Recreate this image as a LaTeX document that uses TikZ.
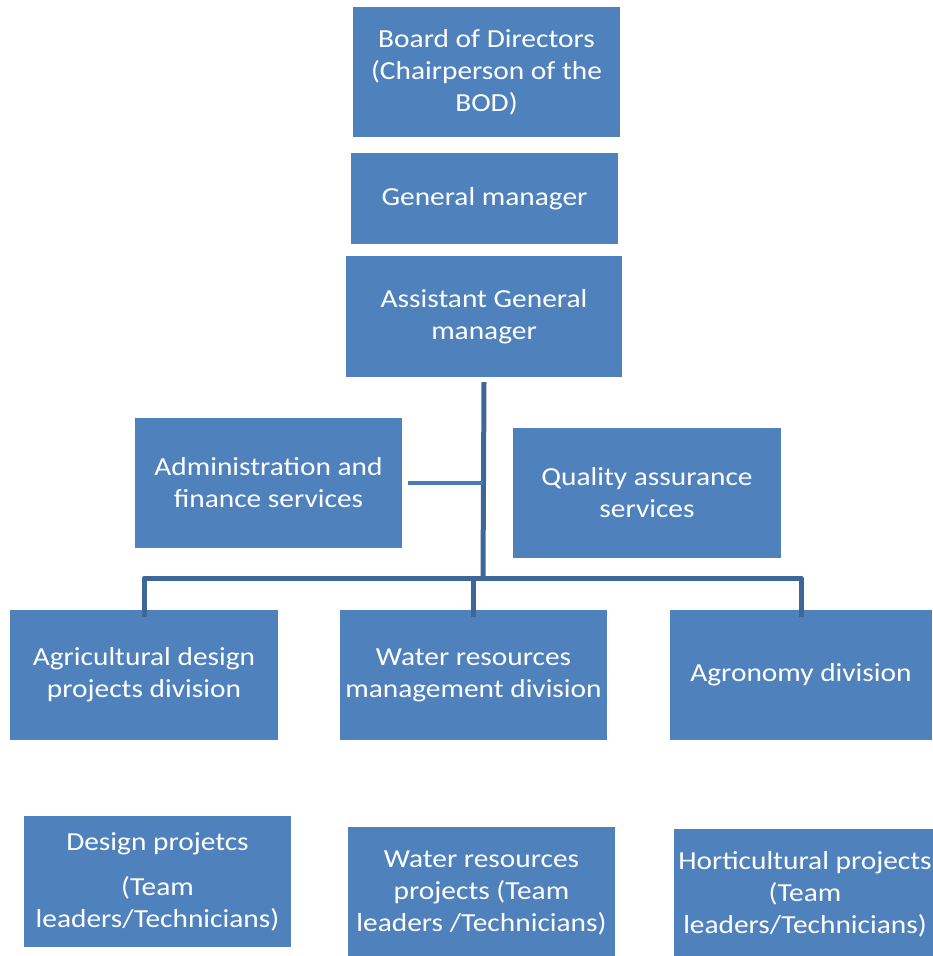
\documentclass[tikz,border=0pt]{standalone}
\usepackage{fontspec}
\setmainfont{Carlito}[FakeStretch=1.13]
\definecolor{boxblue}{HTML}{4F81BD}
\definecolor{linedark}{HTML}{3D6799}
\definecolor{linelight}{HTML}{4A7CB8}
\tikzset{
  box/.style={fill=boxblue, draw=none, text=white, align=center, inner sep=0pt,
    font=\fontsize{26}{32}\selectfont},
  conn/.style={draw=linedark, line width=5pt, line join=round},
  connlight/.style={draw=linelight, line width=4.5pt},
}
\begin{document}
\begin{tikzpicture}[x=1pt,y=-1pt]
\useasboundingbox (0,0) rectangle (932,956);
% top chain
\node[box, minimum width=267pt, minimum height=130pt] (bod) at (486.5,72) {Board of Directors\\(Chairperson of the\\BOD)};
\node[box, minimum width=267pt, minimum height=91pt] (gm) at (484.5,198.5) {General manager};
\node[box, minimum width=276pt, minimum height=121pt] (agm) at (484,316.5) {Assistant General\\manager};
% staff
\node[box, minimum width=267pt, minimum height=130pt] (admin) at (268.5,483) {Administration and\\finance services};
\node[box, minimum width=268pt, minimum height=130pt] (qa) at (647,493) {Quality assurance\\services};
% divisions
\node[box, minimum width=268pt, minimum height=130pt] (agri) at (144,675) {Agricultural design\\projects division};
\node[box, minimum width=267pt, minimum height=130pt] (water) at (473.5,675) {Water resources\\management division};
\node[box, minimum width=262pt, minimum height=130pt] (agro) at (801,675) {Agronomy division};
% projects
\node[box, minimum width=267pt, minimum height=131pt] (design) at (157.5,881.5) {Design projetcs\\[13pt](Team\\leaders/Technicians)};
\node[box, minimum width=267pt, minimum height=131pt] (wproj) at (481.5,892.5) {Water resources\\projects (Team\\leaders /Technicians)};
\node[box, minimum width=262pt, minimum height=131pt] (horti) at (805,894.5) {Horticultural projects\\(Team\\leaders/Technicians)};
% connectors
\coordinate (busC) at (483,578);
\draw[conn] ([yshift=-5pt]agm.south) -- (busC);
\draw[connlight] ([xshift=6pt]admin.east) -- (admin.east -| busC);
\draw[conn] ([yshift=-7pt]agri.north) -- (agri.north |- busC) -- (agro.north |- busC) -- ([yshift=-7pt]agro.north);
\draw[conn] (water.north |- busC) -- ([yshift=-7pt]water.north);
\end{tikzpicture}
\end{document}
